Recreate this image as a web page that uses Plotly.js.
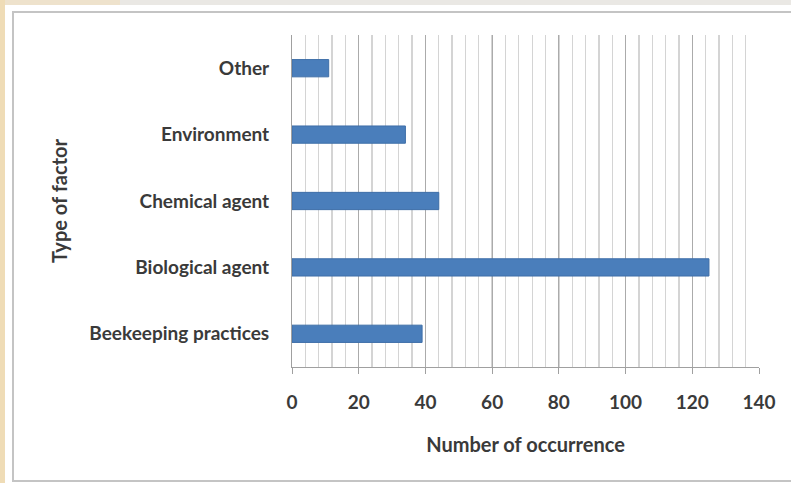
<!DOCTYPE html>
<html>
<head>
<meta charset="utf-8">
<script src="https://cdn.plot.ly/plotly-3.0.1.min.js"></script>
<style>html,body{margin:0;padding:0;background:#fff;}#chart{width:791px;height:483px;}</style>
</head>
<body>
<div id="chart"></div>
<script>
const categories = ["Beekeeping practices", "Biological agent", "Chemical agent", "Environment", "Other"];
const occurrences = [39, 125, 44, 34, 11];
const xTickValues = [0, 20, 40, 60, 80, 100, 120, 140];
const xTitle = "Number of occurrence";
const yTitle = "Type of factor";

// plot area geometry in pixels (for converting decoration positions)
const L = 292, T = 35, W = 467, H = 332;
const px = v => (v - L) / W;
const py = v => (T + H - v) / H;

const font = {family: "Lato, 'Open Sans', sans-serif", size: 19, color: "#3a3a3a", weight: 700};
const titleFont = {family: "Lato, 'Open Sans', sans-serif", size: 20, color: "#3a3a3a", weight: 700};

const trace = {
  type: "bar",
  orientation: "h",
  y: categories,
  x: occurrences,
  width: 0.26,
  marker: {color: "#4a7ebb", line: {color: "#3f6fa8", width: 1}},
  hoverinfo: "x+y"
};

const layout = {
  width: 791, height: 483,
  margin: {l: L, r: 791 - L - W, t: T, b: 483 - T - H},
  paper_bgcolor: "#ffffff",
  plot_bgcolor: "rgba(0,0,0,0)",
  showlegend: false,
  font: font,
  xaxis: {
    range: [0, 140],
    tickvals: xTickValues,
    ticktext: xTickValues.map(String),
    showgrid: true, gridcolor: "#ababab", gridwidth: 1,
    minor: {dtick: 4, tick0: 0, showgrid: true, gridcolor: "#d4d4d4", gridwidth: 1.3, ticks: ""},
    showline: true, linecolor: "#a0a0a0", linewidth: 1,
    ticks: "outside", ticklen: 6, tickcolor: "#a0a0a0",
    ticklabelstandoff: 12,
    zeroline: false,
    tickfont: font,
    title: {text: xTitle, font: titleFont, standoff: 26},
    fixedrange: true
  },
  yaxis: {
    type: "category",
    categoryorder: "array", categoryarray: categories,
    range: [-0.5, 4.5],
    showgrid: false,
    showline: true, linecolor: "#a0a0a0", linewidth: 1,
    ticks: "", ticklabelstandoff: 18,
    tickfont: font,
    title: {text: yTitle, font: titleFont, standoff: 16},
    fixedrange: true
  },
  shapes: [
    {type: "rect", xref: "paper", yref: "paper", x0: px(0), x1: px(5), y0: py(483), y1: py(0),
     fillcolor: "#efdcb6", line: {width: 0}, layer: "below"},
    {type: "rect", xref: "paper", yref: "paper", x0: px(5), x1: px(120), y0: py(5), y1: py(0),
     fillcolor: "#eee2cc", line: {width: 0}, layer: "below"},
    {type: "rect", xref: "paper", yref: "paper", x0: px(120), x1: px(791), y0: py(5), y1: py(0),
     fillcolor: "#eae8e4", line: {width: 0}, layer: "below"},
    {type: "rect", xref: "paper", yref: "paper", x0: px(13), x1: px(796), y0: py(481), y1: py(12),
     fillcolor: "rgba(0,0,0,0)", line: {color: "#c4c4c4", width: 2}, layer: "below"}
  ]
};

Plotly.newPlot("chart", [trace], layout, {displayModeBar: false, staticPlot: true});
</script>
</body>
</html>
